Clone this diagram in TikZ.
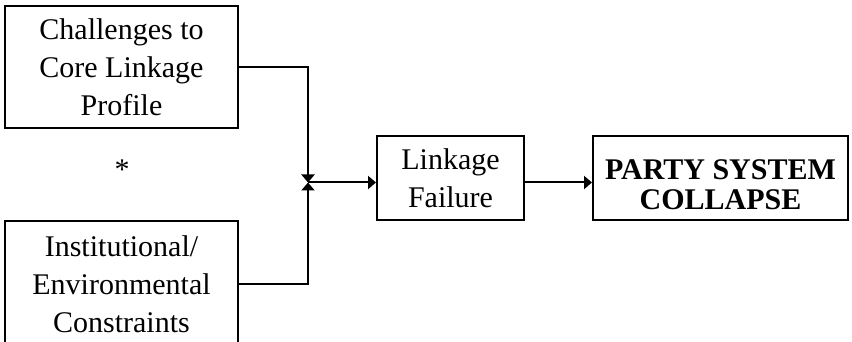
\documentclass[tikz,border=0pt]{standalone}
\usepackage{fontspec}
\setmainfont{Liberation Serif}
\usetikzlibrary{arrows.meta}
\begin{document}
\begin{tikzpicture}[x=1pt,y=-1pt,
  box/.style={draw,line width=2pt,inner sep=0pt,align=center,
    font=\fontsize{30}{38}\selectfont},
  conn/.style={line width=2pt},
  tip/.style={-{Triangle[length=8pt,width=13pt]}}]
  \useasboundingbox (0,0) rectangle (852,342);

  % input boxes
  \node[box,minimum width=233pt,minimum height=122pt] (chal) at (121.5,67)
    {Challenges to\\Core Linkage\\Profile};
  \node[box,minimum width=233pt,minimum height=126pt] (inst) at (121.5,284)
    {Institutional/\\Environmental\\Constraints};
  \node[font=\fontsize{30}{30}\selectfont] (star) at (122,170) {*};

  % middle and outcome boxes
  \node[box,minimum width=147pt,minimum height=84pt] (link) at (450.5,178)
    {Linkage\\Failure};
  \node[draw,line width=2pt,minimum width=255pt,minimum height=84pt] (party) at (720.5,178) {};
  \node[align=center,font=\fontsize{30}{30}\selectfont\bfseries]
    (partytext) at ([yshift=-7pt]party.center) {PARTY SYSTEM\\COLLAPSE};

  % connectors
  \coordinate (junc) at (308,182.5);
  \draw[conn,tip] (chal.east) -| (junc);
  \draw[conn,tip] (inst.east) -| (junc);
  \draw[conn,tip] (junc) -- (link.west |- junc);
  \draw[conn,tip] (link.east |- junc) -- (party.west |- junc);
\end{tikzpicture}
\end{document}
